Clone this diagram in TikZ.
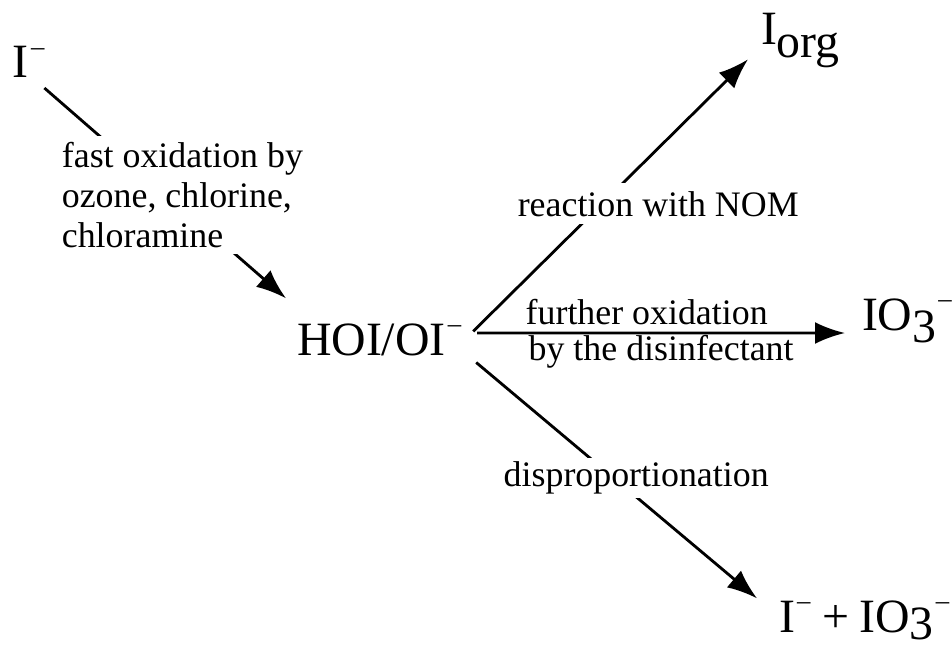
\documentclass[tikz,border=0pt]{standalone}
\usepackage{fontspec}
\setmainfont{Liberation Serif}
\usetikzlibrary{arrows.meta}
\newcommand{\chg}{\kern1.5pt\raisebox{0.48em}{\fontsize{19}{19}\selectfont\textendash}}
\newcommand{\lowr}[2][0.3cm]{\raisebox{-#1}{#2}}
\tikzset{
 species/.style={font=\fontsize{34}{40}\selectfont,inner sep=0pt,outer sep=0pt,anchor=base west},
 arrow/.style={-{Latex[length=0.75cm,width=0.55cm]},line width=2pt},
 note/.style={font=\fontsize{25.5}{28.45}\selectfont,align=left,outer sep=0pt}
}

\begin{document}
\begin{tikzpicture}[x=0.025cm,y=-0.025cm]
\useasboundingbox (0,0) rectangle (952,644);
\node[species] (iodide) at (13,78) {I\chg};
\node[species] (hoi) at (297,355) {HOI/OI\chg};
\node[species] (iorg) at (761,45) {I\lowr{org}};
\node[species] (iodate) at (862,330) {IO\lowr{3}\chg};
\node[species] (mix) at (779,632) {I\chg\hspace{0.3cm}+\hspace{0.25cm}IO\lowr[0.18cm]{3}\chg};
\draw[arrow] ([xshift=0cm,yshift=-0.25cm]iodide.south east) -- node[note,fill=white,inner sep=0.15cm,xshift=0.43cm,yshift=-0.05cm] (oxid) {fast oxidation by\\ozone, chlorine,\\chloramine} ([xshift=-0.275cm,yshift=0.625cm]hoi.north west);
\draw[arrow] ([xshift=0.3cm,yshift=-0.2cm]hoi.north east) -- node[note,fill=white,inner sep=0.2cm,xshift=1.19cm,yshift=-0.21cm] (nom) {reaction with NOM} ([xshift=-0.325cm,yshift=0.2cm]iorg.south west);
\draw[arrow] ([xshift=0.4cm,yshift=0.55cm]hoi.base east) -- node[note,above,inner sep=0.2cm,xshift=-0.36cm] (further) {further oxidation} node[note,below,inner sep=0.05cm] (disinf) {by the disinfectant} ([xshift=-0.425cm,yshift=-0.075cm]iodate.base west);
\draw[arrow] ([xshift=0.375cm,yshift=-0.175cm]hoi.south east) -- node[note,fill=white,inner sep=0.1cm,xshift=0.49cm,yshift=0.06cm] (disp) {disproportionation} ([xshift=-0.55cm,yshift=0.05cm]mix.north west);
\end{tikzpicture}
\end{document}
